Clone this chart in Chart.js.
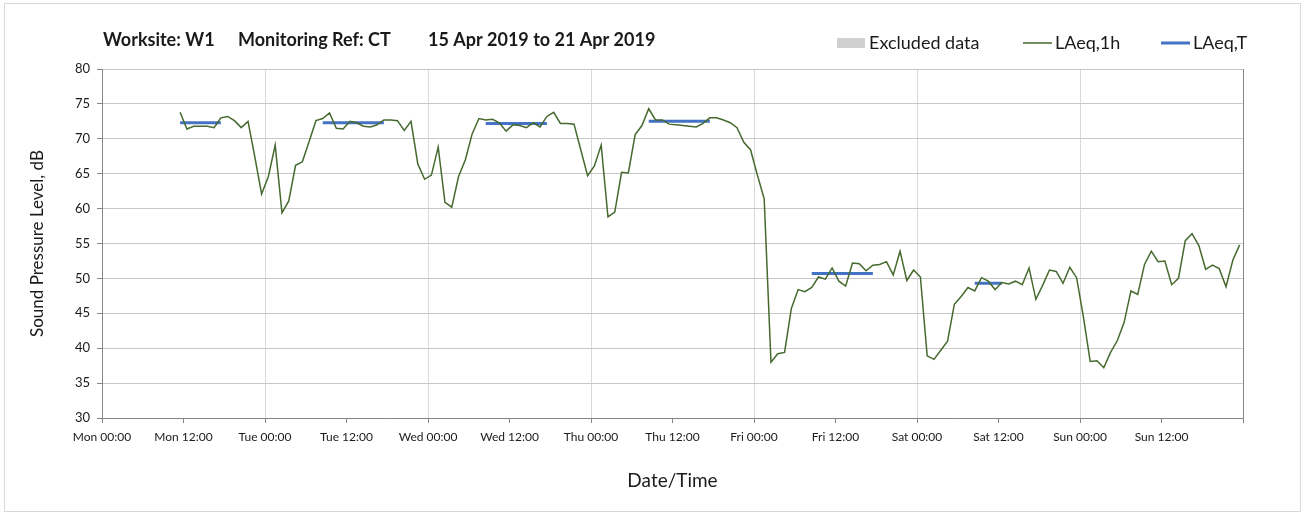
<!DOCTYPE html>
<html>
<head>
<meta charset="utf-8">
<title>Worksite W1 - Monitoring Ref CT</title>
<script src="https://cdn.jsdelivr.net/npm/chart.js@4.4.1/dist/chart.umd.min.js"></script>
<style>
  html, body { margin: 0; padding: 0; background: #fff; }
  #wrap { position: relative; width: 1309px; height: 515px; }
  #frame { position: absolute; left: 4px; top: 3px; width: 1295px; height: 507px; border: 1px solid #d9d9d9; pointer-events: none; }
  canvas { position: absolute; left: 0; top: 0; }
</style>
</head>
<body>
<div id="wrap">
  <canvas id="chart" width="1309" height="515"></canvas>
  <div id="frame"></div>
</div>
<script>
// ---------- DATA ----------
const titleParts = ["Worksite: W1", "Monitoring Ref: CT", "15 Apr 2019 to 21 Apr 2019"];
const tickLabels = ["Mon 00:00", "Mon 12:00", "Tue 00:00", "Tue 12:00", "Wed 00:00", "Wed 12:00",
  "Thu 00:00", "Thu 12:00", "Fri 00:00", "Fri 12:00", "Sat 00:00", "Sat 12:00", "Sun 00:00", "Sun 12:00"];

// hourly LAeq,1h, first value is the Mon 11:00-12:00 hour
const firstHour = 11;
const laeq1h = [
  73.8, 71.4, 71.8, 71.8, 71.8, 71.6, 73.0, 73.2, 72.6, 71.6, 72.5, 67.4, 62.1,           // Mon 11-23
  64.6, 69.1, 59.4, 61.1, 66.2, 66.7, 69.6, 72.6, 72.9, 73.7, 71.5, 71.4,                 // Tue 00-11
  72.5, 72.3, 71.8, 71.7, 72.0, 72.7, 72.7, 72.6, 71.2, 72.5, 66.4, 64.2,                 // Tue 12-23
  64.8, 68.8, 60.9, 60.2, 64.6, 67.0, 70.7, 72.9, 72.7, 72.8, 72.3, 71.1,                 // Wed 00-11
  72.0, 71.9, 71.6, 72.3, 71.7, 73.2, 73.8, 72.2, 72.2, 72.1, 68.4, 64.7,                 // Wed 12-23
  66.1, 69.1, 58.8, 59.5, 65.2, 65.1, 70.6, 71.9, 74.3, 72.7, 72.7, 72.1,                 // Thu 00-11
  72.0, 71.9, 71.8, 71.7, 72.2, 73.0, 73.0, 72.7, 72.3, 71.6, 69.5, 68.4,                 // Thu 12-23
  64.8, 61.4, 38.0, 39.2, 39.4, 45.7, 48.4, 48.1, 48.7, 50.2, 49.9, 51.5,                 // Fri 00-11
  49.6, 48.9, 52.2, 52.1, 51.1, 51.9, 52.0, 52.4, 50.5, 53.9, 49.7, 51.2,                 // Fri 12-23
  50.2, 38.9, 38.4, 39.7, 41.0, 46.3, 47.4, 48.7, 48.2, 50.1, 49.6, 48.4,                 // Sat 00-11
  49.4, 49.2, 49.6, 49.1, 51.5, 47.0, 49.0, 51.2, 51.0, 49.3, 51.6, 50.1,                 // Sat 12-23
  44.5, 38.1, 38.2, 37.2, 39.4, 41.1, 43.7, 48.2, 47.7, 52.0, 53.9, 52.4,                 // Sun 00-11
  52.5, 49.1, 50.0, 55.4, 56.4, 54.7, 51.3, 51.9, 51.4, 48.8, 52.6, 54.8                  // Sun 12-23
];

// LAeq,T periods (hour index of first and last hour, and level)
const periodStart = [11, 32, 56, 80, 104, 128];
const periodEnd   = [17, 41, 65, 89, 113, 132];
const laeqT       = [72.3, 72.3, 72.2, 72.5, 50.7, 49.3];

// ---------- BUILD SERIES ----------
const hourlyPoints = laeq1h.map((v, i) => ({ x: firstHour + i + 0.5, y: v }));
const periodPoints = [];
laeqT.forEach((v, i) => {
  periodPoints.push({ x: periodStart[i] + 0.5, y: v });
  periodPoints.push({ x: periodEnd[i] + 0.5, y: v });
  periodPoints.push({ x: periodEnd[i] + 1, y: null });
});

const FONT = "Lato, 'Open Sans', sans-serif";
const TEXT = "#1a1a1a";
const AXIS = "#868686";

// ---------- HEADER (title + legend) ----------
const headerPlugin = {
  id: "header",
  afterDraw(chart) {
    const ctx = chart.ctx;
    ctx.save();
    ctx.fillStyle = TEXT;
    ctx.textBaseline = "middle";
    ctx.textAlign = "left";
    ctx.font = "bold 18px " + FONT;
    const titleX = [103, 238, 428];
    titleParts.forEach((t, i) => ctx.fillText(t, titleX[i], 40));

    // legend
    const legendX = [837, 1023, 1161];
    const sampleW = 29;
    ctx.font = "18px " + FONT;
    chart.data.datasets.forEach((ds, i) => {
      const x = legendX[i];
      if (ds.legendBox) {
        ctx.fillStyle = ds.backgroundColor;
        ctx.fillRect(x, 38, sampleW - 1, 10);
      } else {
        ctx.strokeStyle = ds.borderColor;
        ctx.lineWidth = ds.borderWidth;
        ctx.beginPath();
        ctx.moveTo(x, 43);
        ctx.lineTo(x + sampleW, 43);
        ctx.stroke();
      }
      ctx.fillStyle = TEXT;
      ctx.fillText(ds.label, x + sampleW + 3, 43);
    });
    ctx.restore();
  }
};

// ---------- CHART ----------
new Chart(document.getElementById("chart"), {
  type: "line",
  data: {
    datasets: [
      { label: "Excluded data", data: [], legendBox: true, backgroundColor: "#d0d0d0", borderColor: "#d0d0d0" },
      { label: "LAeq,1h", data: hourlyPoints, borderColor: "#46692e", borderWidth: 1.5,
        pointRadius: 0, tension: 0, fill: false },
      { label: "LAeq,T", data: periodPoints, borderColor: "#4472C4", borderWidth: 3,
        pointRadius: 0, tension: 0, fill: false, spanGaps: false }
    ]
  },
  options: {
    responsive: false,
    animation: false,
    devicePixelRatio: 1,
    layout: { padding: { top: 69, right: 66, bottom: 0, left: 0 } },
    plugins: { legend: { display: false }, title: { display: false }, tooltip: { enabled: false } },
    scales: {
      x: {
        type: "linear",
        min: 0, max: 168,
        offset: false,
        afterFit: s => { s.height = 97; },
        ticks: {
          stepSize: 12, autoSkip: false, maxRotation: 0, padding: 7,
          color: TEXT, font: { family: FONT, size: 12 },
          callback: v => tickLabels[v / 12] ?? ""
        },
        grid: {
          tickLength: 5,
          tickColor: AXIS,
          color: c => c.tick && c.tick.value === 168 ? AXIS : (c.tick && c.tick.value % 24 === 0 ? "#d9d9d9" : "rgba(0,0,0,0)")
        },
        border: { color: AXIS, width: 1 },
        title: { display: true, text: "Date/Time", color: TEXT, font: { family: FONT, size: 19 },
          padding: { top: 0, bottom: 23 } }
      },
      y: {
        min: 30, max: 80,
        afterFit: s => { s.width = 102; },
        ticks: { stepSize: 5, padding: 7, color: TEXT, font: { family: FONT, size: 13 } },
        grid: { tickLength: 5, tickColor: AXIS, color: "#c8c8c8" },
        border: { color: AXIS, width: 1 },
        title: { display: true, text: "Sound Pressure Level, dB", color: TEXT, font: { family: FONT, size: 17 },
          padding: { top: 27, bottom: 0 } }
      }
    }
  },
  plugins: [headerPlugin]
});
</script>
</body>
</html>
